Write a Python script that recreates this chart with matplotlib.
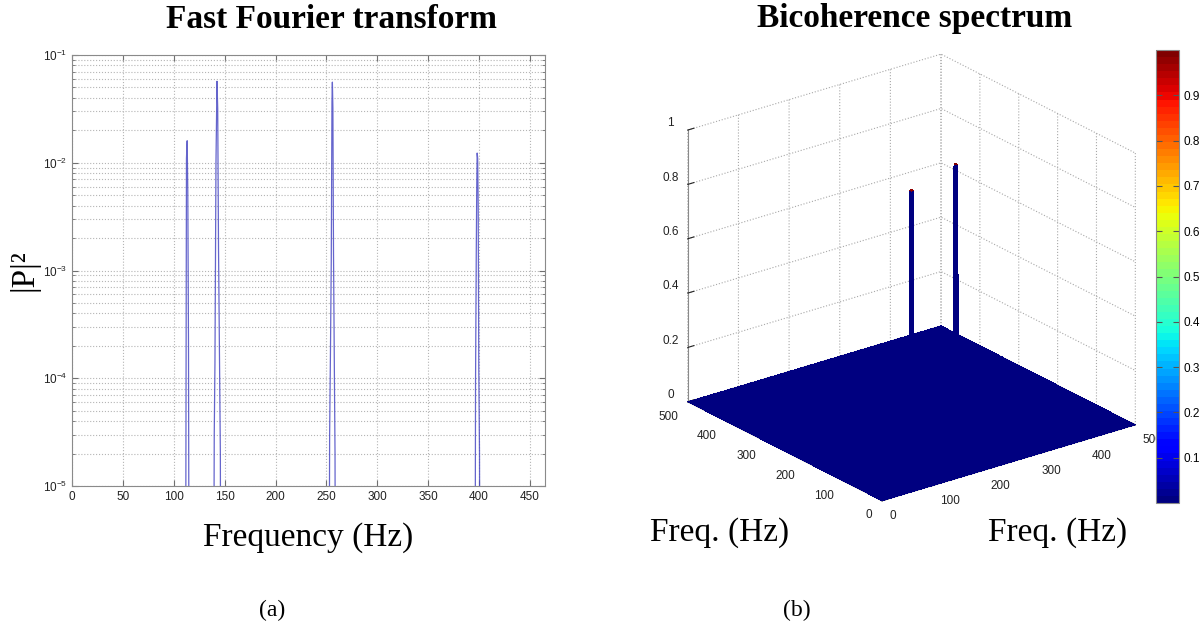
import numpy as np
import matplotlib
matplotlib.use("Agg")
import matplotlib.pyplot as plt
import matplotlib as mpl
from matplotlib.cm import ScalarMappable
from matplotlib.colors import Normalize

# ---- data ----
# (a) FFT power spectrum, four narrow peaks, everything else below 1e-5
fft_freq = [0, 111.5, 112.5, 113.2, 113.8, 114.5, 115.2,
            139.0, 139.8, 140.5, 141.5, 142.5, 143.2, 144.0, 145.0, 145.8, 146.3,
            252.5, 253.2, 254.0, 254.8, 255.5, 255.9, 256.4, 257.0, 257.8, 258.5, 259.0,
            396.0, 396.6, 397.3, 397.8, 398.2, 398.7, 399.2, 399.8, 400.5, 401.0, 499]
fft_power = [1e-7, 1e-7, 1.1e-2, 1.6e-2, 5.4e-3, 2e-4, 1e-7,
             1e-7, 3e-5, 1.4e-4, 1e-2, 5.7e-2, 3.2e-2, 1.6e-3, 1.4e-4, 2e-5, 1e-7,
             1e-7, 3e-5, 1.7e-4, 1.2e-3, 3.7e-2, 5.6e-2, 3.2e-2, 1.5e-3, 1.4e-4, 2e-5, 1e-7,
             1e-7, 9e-5, 1.4e-3, 6e-3, 1.23e-2, 1.1e-2, 4e-3, 1.2e-4, 2e-5, 1e-7, 1e-7]

# (b) bicoherence: flat zero plane with two narrow spikes at (f1, f2)
bic_grid = np.arange(0, 501, 2)
spike_f1 = [142, 254]
spike_f2 = [110, 142]
spike_b = [0.98, 0.99]
spike_cells = 3          # spike plateau is 3x3 grid points

cbar_ticks = [0.1, 0.2, 0.3, 0.4, 0.5, 0.6, 0.7, 0.8, 0.9]
z_ticks = [0, 0.2, 0.4, 0.6, 0.8, 1]
z_ticklabels = ['0', '0.2', '0.4', '0.6', '0.8', '1']
f_ticks = [0, 100, 200, 300, 400, 500]

W, H = 1204, 634
serif = ['Liberation Serif', 'DejaVu Serif']
sans = ['Liberation Sans', 'DejaVu Sans']
mpl.rcParams['font.family'] = sans
mpl.rcParams['axes.linewidth'] = 0.8

fig = plt.figure(figsize=(W / 100, H / 100), dpi=100)

def frac(x0, y0, x1, y1):
    # pixel box (top-left origin) -> figure fraction rect
    return [x0 / W, 1 - y1 / H, (x1 - x0) / W, (y1 - y0) / H]

############################ (a) FFT ############################
ax1 = fig.add_axes(frac(72, 55, 545, 486))
ax1.semilogy(fft_freq, fft_power, color='#4a4ac4', lw=0.9, alpha=0.85)
ax1.set_xlim(0, (545 - 72) / 1.0175)
ax1.set_ylim(1e-5, 1e-1)
ax1.set_xticks(np.arange(0, 451, 50))
ax1.grid(True, which='major', axis='x', color='#b5b5b5', linestyle=':', lw=0.8)
ax1.grid(True, which='both', axis='y', color='#b5b5b5', linestyle=':', lw=0.8)
ax1.tick_params(which='both', direction='in', top=True, right=True,
                color='#707070', labelsize=8.5, labelcolor='#222222')
ax1.tick_params(which='major', length=4)
ax1.tick_params(which='minor', length=2)
for s in ax1.spines.values():
    s.set_color('#8a8a8a')
ax1.set_xlabel('Frequency (Hz)', family=serif, fontsize=24, labelpad=14)
ax1.set_ylabel('|P|²', family=serif, fontsize=24, labelpad=2)

fig.text(332 / W, 1 - 20 / H, 'Fast Fourier transform', family=serif,
         fontweight='bold', fontsize=24, ha='center', va='center')
fig.text(272 / W, 1 - 610 / H, '(a)', family=serif, fontsize=17,
         ha='center', va='center')

############################ (b) bicoherence ############################
jet64 = mpl.colormaps['jet'].resampled(64)
norm = Normalize(0, 1)

X, Y = np.meshgrid(bic_grid, bic_grid)
Z = np.zeros_like(X, dtype=float)
for f1, f2, b in zip(spike_f1, spike_f2, spike_b):
    i = np.searchsorted(bic_grid, f2)
    j = np.searchsorted(bic_grid, f1)
    Z[i:i + spike_cells, j:j + spike_cells] = b

# colour each face by its lowest corner so the spike walls stay dark blue
Zpad = np.pad(Z, ((0, 1), (0, 1)), mode='edge')
Zface = np.minimum.reduce([Zpad[:-1, :-1], Zpad[1:, :-1], Zpad[:-1, 1:], Zpad[1:, 1:]])

ax2 = fig.add_axes(frac(624, 5, 1184, 565), projection='3d')
ax2.set_proj_type('ortho')
ax2.view_init(elev=23, azim=-127.5)
ax2.set_box_aspect((1, 1, 0.925), zoom=0.935)
ax2.plot_surface(X, Y, Z, facecolors=jet64(norm(Zface)), rcount=len(bic_grid),
                 ccount=len(bic_grid), linewidth=0, antialiased=False, shade=False)
ax2.set_xlim(0, 500)
ax2.set_ylim(0, 500)
ax2.set_zlim(0, 1)
ax2.set_xticks(f_ticks)
ax2.set_xticklabels([str(t) for t in f_ticks], ha='left', va='center_baseline')
ax2.set_yticks(f_ticks)
ax2.set_yticklabels([str(t) for t in f_ticks], ha='right', va='center_baseline')
ax2.set_zticks(z_ticks)
ax2.set_zticklabels(z_ticklabels, va='bottom')
for axis in (ax2.xaxis, ax2.yaxis, ax2.zaxis):
    axis.set_pane_color((1, 1, 1, 0))
    axis.pane.set_edgecolor('none')
    axis.line.set_color('#8a8a8a')
    axis._axinfo['grid'].update(color='#a8a8a8', linestyle=':', linewidth=0.8)
    axis._axinfo['tick'].update(inward_factor=0.0, outward_factor=0.3)
ax2.tick_params(labelsize=8.5, pad=0, colors='#222222')

fig.text(915 / W, 1 - 18 / H, 'Bicoherence spectrum', family=serif,
         fontweight='bold', fontsize=24, ha='center', va='center')
fig.text(720 / W, 1 - 533 / H, 'Freq. (Hz)', family=serif, fontsize=24,
         ha='center', va='center')
fig.text(1058 / W, 1 - 533 / H, 'Freq. (Hz)', family=serif, fontsize=24,
         ha='center', va='center')
fig.text(797 / W, 1 - 610 / H, '(b)', family=serif, fontsize=17,
         ha='center', va='center')

# colorbar
cax = fig.add_axes(frac(1156, 50, 1179, 503))
cb = fig.colorbar(ScalarMappable(norm=norm, cmap=jet64), cax=cax, ticks=cbar_ticks)
cb.ax.tick_params(direction='in', left=True, right=True, length=4,
                  labelsize=8.5, color='#555555')
cb.outline.set_edgecolor('#8a8a8a')

fig.savefig('out.png', dpi=100)
